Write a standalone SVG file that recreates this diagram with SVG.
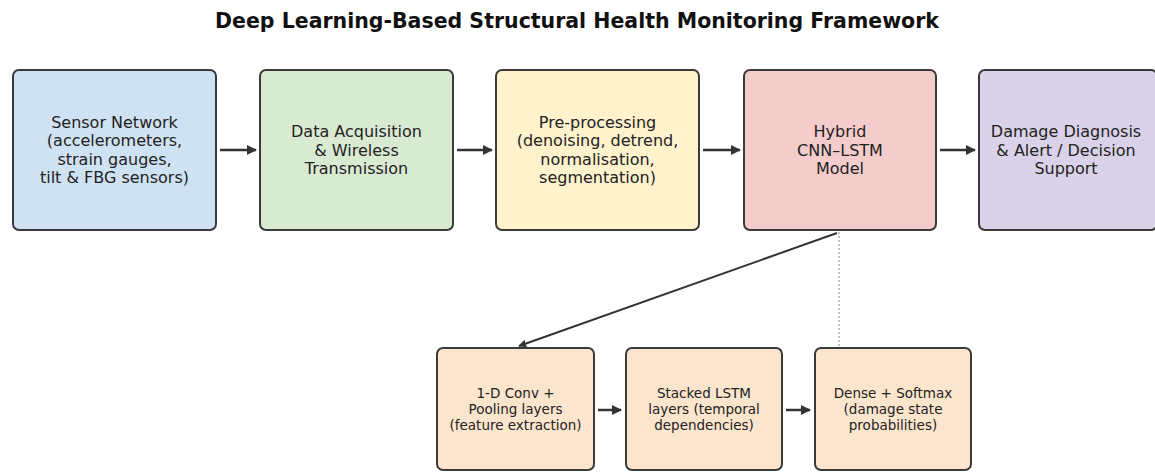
<svg xmlns="http://www.w3.org/2000/svg" width="1155" height="472" viewBox="0 0 1155 472">
  <defs>
    <style>
      .box { stroke: #3a3a3a; stroke-width: 2; }
      .lbl { font-family: "DejaVu Sans", "Liberation Sans", sans-serif; font-size: 16px; fill: #222; text-anchor: middle; }
      .sm { font-family: "DejaVu Sans", "Liberation Sans", sans-serif; font-size: 13.5px; fill: #222; text-anchor: middle; }
      .title { font-family: "DejaVu Sans", "Liberation Sans", sans-serif; font-size: 20.5px; font-weight: bold; fill: #111; text-anchor: middle; }
      .flow { stroke: #333; stroke-width: 2.5; fill: none; }
      .dot { stroke: #9a9a9a; stroke-width: 1.2; stroke-dasharray: 2 2; fill: none; }
    </style>
    <marker id="head" viewBox="0 0 10 10" refX="9" refY="5" markerWidth="4" markerHeight="4" markerUnits="strokeWidth" orient="auto">
      <path d="M0,0 L10,5 L0,10 z" fill="#333"/>
    </marker>
  </defs>

  <rect width="1155" height="472" fill="#ffffff"/>

  <text class="title" x="577" y="28">Deep Learning-Based Structural Health Monitoring Framework</text>

  <!-- main pipeline -->
  <g id="sensor-network">
    <rect class="box" x="13" y="70" width="203" height="160" rx="6" fill="#cfe2f3"/>
    <text class="lbl" x="114.5" y="128">Sensor Network</text>
    <text class="lbl" x="114.5" y="146.3">(accelerometers,</text>
    <text class="lbl" x="114.5" y="164.7">strain gauges,</text>
    <text class="lbl" x="114.5" y="183">tilt &amp; FBG sensors)</text>
  </g>

  <g id="data-acquisition">
    <rect class="box" x="260" y="70" width="193" height="160" rx="6" fill="#d9ead3"/>
    <text class="lbl" x="356.5" y="137.2">Data Acquisition</text>
    <text class="lbl" x="356.5" y="155.5">&amp; Wireless</text>
    <text class="lbl" x="356.5" y="173.8">Transmission</text>
  </g>

  <g id="pre-processing">
    <rect class="box" x="496" y="70" width="203" height="160" rx="6" fill="#fff2cc"/>
    <text class="lbl" x="597.5" y="128">Pre-processing</text>
    <text class="lbl" x="597.5" y="146.3">(denoising, detrend,</text>
    <text class="lbl" x="597.5" y="164.7">normalisation,</text>
    <text class="lbl" x="597.5" y="183">segmentation)</text>
  </g>

  <g id="hybrid-model">
    <rect class="box" x="744" y="70" width="192" height="160" rx="6" fill="#f4cccc"/>
    <text class="lbl" x="840" y="137.2">Hybrid</text>
    <text class="lbl" x="840" y="155.5">CNN–LSTM</text>
    <text class="lbl" x="840" y="173.8">Model</text>
  </g>

  <g id="damage-diagnosis">
    <rect class="box" x="979" y="70" width="178" height="160" rx="6" fill="#d9d2e9"/>
    <text class="lbl" x="1066" y="137.2">Damage Diagnosis</text>
    <text class="lbl" x="1066" y="155.5">&amp; Alert / Decision</text>
    <text class="lbl" x="1066" y="173.8">Support</text>
  </g>

  <!-- model internals -->
  <g id="conv-pooling">
    <rect class="box" x="437" y="348" width="157" height="122" rx="6" fill="#fce5cd"/>
    <text class="sm" x="515.5" y="397.7">1-D Conv +</text>
    <text class="sm" x="515.5" y="413.7">Pooling layers</text>
    <text class="sm" x="515.5" y="429.7">(feature extraction)</text>
  </g>

  <g id="stacked-lstm">
    <rect class="box" x="626" y="348" width="156" height="122" rx="6" fill="#fce5cd"/>
    <text class="sm" x="704" y="397.7">Stacked LSTM</text>
    <text class="sm" x="704" y="413.7">layers (temporal</text>
    <text class="sm" x="704" y="429.7">dependencies)</text>
  </g>

  <g id="dense-softmax">
    <rect class="box" x="815" y="348" width="156" height="122" rx="6" fill="#fce5cd"/>
    <text class="sm" x="893" y="397.7">Dense + Softmax</text>
    <text class="sm" x="893" y="413.7">(damage state</text>
    <text class="sm" x="893" y="429.7">probabilities)</text>
  </g>

  <!-- connectors -->
  <g id="connectors">
    <line class="flow" x1="220" y1="150" x2="256" y2="150" marker-end="url(#head)"/>
    <line class="flow" x1="457" y1="150" x2="492" y2="150" marker-end="url(#head)"/>
    <line class="flow" x1="703" y1="150" x2="740" y2="150" marker-end="url(#head)"/>
    <line class="flow" x1="940" y1="150" x2="975" y2="150" marker-end="url(#head)"/>
    <line class="flow" x1="837" y1="233" x2="519" y2="346" marker-end="url(#head)" style="stroke-width:2"/>
    <line class="dot" x1="839" y1="232" x2="839" y2="348"/>
    <line class="flow" x1="598" y1="410" x2="621" y2="410" marker-end="url(#head)"/>
    <line class="flow" x1="786" y1="410" x2="810" y2="410" marker-end="url(#head)"/>
  </g>
</svg>
